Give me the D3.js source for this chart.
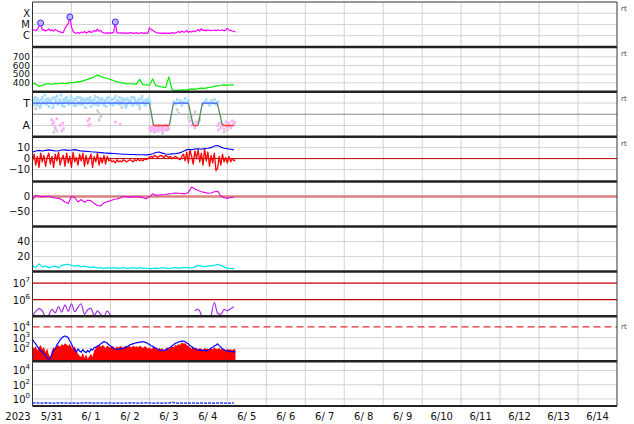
<!DOCTYPE html>
<html><head><meta charset="utf-8">
<script src="https://cdn.jsdelivr.net/npm/d3@7"></script>
<style>body{margin:0;background:#fff}svg{display:block}text{font-family:"DejaVu Sans",sans-serif}</style>
</head><body><svg id="c" width="634" height="424"></svg>
<script>
// ---------------- DATA ----------------
const startUTC = Date.UTC(2023,4,31);
const endUTC = Date.UTC(2023,5,15);
const dayLabels = ["5/31","6/ 1","6/ 2","6/ 3","6/ 4","6/ 5","6/ 6","6/ 7","6/ 8","6/ 9","6/10","6/11","6/12","6/13","6/14"];
const yearLabel = "2023";

// panel 1: X-ray flux, hourly, units of 1e-6 W/m2
const xrayStepH = 1;
const xrayC = [3.0,3.4,2.8,3.6,7.0,13.5,3.2,3.5,2.6,3.1,
 4.0,2.8,3.3,2.5,3.6,2.9,2.4,2.2,1.9,2.0,
 4.5,7.5,12.0,47.0,6.0,2.5,1.8,1.7,1.9,1.6,
 2.1,1.8,2.4,1.7,2.0,2.6,1.9,2.2,3.0,2.4,
 3.8,2.5,2.9,2.0,1.8,1.7,1.8,1.6,1.9,1.7,
 2.0,16.6,1.8,1.7,1.9,1.6,1.8,1.7,1.6,1.8,
 1.7,1.9,1.6,1.7,1.8,1.6,1.7,1.9,1.6,1.8,
 1.7,1.6,5.0,3.6,3.0,2.4,2.0,1.8,1.7,1.6,
 1.7,1.6,1.8,1.6,1.7,1.6,1.9,1.7,1.8,2.0,
 2.3,1.9,2.6,2.1,2.2,3.0,2.0,2.4,2.1,2.6,
 2.3,2.8,3.5,2.6,4.2,2.8,3.1,2.7,3.3,2.9,
 3.0,2.9,3.2,2.8,3.4,3.0,2.9,3.3,2.7,3.1,
 4.5,3.2,3.0,2.6,2.4,2.2];
const flareHours = [5, 23, 51];
const flareC = [13.5, 47.0, 16.6];
const xrayLevels = ["X","M","C"];
const xrayLevelFlux = [1e-4,1e-5,1e-6];

// panel 2: solar wind speed, 2-hourly
const speedStepH = 2;
const speed = [400,385,360,372,385,390,384,392,390,396,
 392,398,402,406,412,418,428,440,455,468,
 490,475,462,450,440,425,412,402,396,392,
 390,388,385,440,380,378,372,445,368,360,
 352,346,470,320,310,315,320,316,322,330,
 325,335,340,336,345,350,360,366,370,376,
 372,378,374];
const speedTicks = [400,500,600,700];

// panel 3: sector (T=+1, A=-1)
const sectorHours = [0,72,74.5,84.3,86.8,96,99,102,104.6,113.8,117,124];
const sectorLevel = [1,1,-1,-1,1,1,-1,-1,1,1,-1,-1];
const phiStepH = 1;
const phiTowardA = [1.1,1.3,0.9,1.4,1.2,0.8,1.5,1.0,1.3,1.1,
 0.7,1.2,1.4,0.9,1.3,1.6,1.0,1.2,0.8,1.3,
 1.1,1.5,0.9,1.2,1.4,1.0,1.3,0.8,1.1,1.5,
 1.2,0.9,1.3,1.0,1.4,1.2,0.7,1.1,1.3,0.9,
 1.5,1.2,1.0,1.3,0.8,1.2,1.4,1.1,0.9,1.3,
 1.0,1.6,1.2,0.9,1.1,1.4,1.0,1.3,0.8,1.2,
 1.1,1.5,0.9,1.3,1.0,1.2,0.7,1.4,1.1,0.9,
 1.3,1.0,1.2];
const phiTowardB = [0.8,1.5,1.2,1.0,0.6,1.3,1.1,1.7,0.9,1.4,
 1.2,1.0,0.6,1.5,1.1,0.9,1.3,1.7,1.0,0.7,
 1.4,1.2,0.9,1.6,1.1,0.8,1.3,1.5,1.0,0.9,
 1.4,1.1,0.6,1.3,1.0,1.5,1.2,0.9,1.6,1.1,
 0.8,1.3,1.4,1.0,1.2,0.7,1.5,1.1,1.3,0.8,
 1.4,1.0,1.2,1.5,0.9,1.1,1.3,0.6,1.4,1.0,
 1.2,0.8,1.5,1.1,0.9,1.3,1.0,1.6,1.2,0.8,
 1.1,1.4,1.0];
const phiLateHours = [87,88,89,90,91,92,93,94,95,96,105,106,107,108,109,110,111,112,113,114];
const phiLateVals = [1.1,0.9,1.3,1.0,1.2,0.8,1.1,1.4,1.0,1.2,0.9,1.1,1.3,1.0,0.8,1.2,1.0,1.3,0.9,1.1];
const phiAwayHours = [11.7,12.3,13,14,15,17,18,18.5,19,34,34.5,35,35.5,41,51,54,
 72,72.5,73,73.5,74,74.5,75,75.5,76,76.5,77,77.5,78,78.5,79,79.5,80,80.5,81,82,82.5,83,84,
 97,98,99,100,101,114,114.5,115,116,117,118,119,120,121,122,123,124,124.5];
const phiAwayVals = [-0.5,-0.9,-0.7,-1.2,-0.4,-1.0,-1.5,-0.8,-1.3,-0.6,-1.0,-0.4,-0.9,-0.5,-0.7,-0.9,
 -1.3,-1.1,-1.5,-1.2,-1.4,-1.0,-1.3,-1.5,-1.1,-1.4,-1.2,-1.5,-1.0,-1.3,-1.4,-1.2,-1.5,-1.1,-1.3,-1.4,-1.0,-1.2,-1.3,
 -0.6,-1.0,-0.8,-1.2,-0.7,-1.0,-1.4,-0.8,-1.2,-0.9,-1.3,-0.7,-1.1,-0.8,-1.2,-0.6,-0.9,-0.7];
const phiOtherHours = [1,2,3,13,14,15,40,41,42,55,57,65,66,75,78,80,83,89,90,96,98,100,103,118,120];
const phiOtherVals = [0.9,0.5,0.8,-1.6,-1.3,-1.5,0.3,0.1,-0.2,0.6,0.8,0.9,0.5,-1.6,-1.2,-1.7,-1.4,0.4,0.1,-0.3,-0.1,0.2,-0.5,-1.6,-1.4];

// panel 4: IMF Bt (blue, 2-hourly) and Bz (red, hourly)
const btStepH = 2;
const bt = [6,7,7.5,7,7.5,8,7.5,7,7.2,7.8,
 8,7.5,7.8,8.2,7.5,7,6.8,6.5,6.2,6.0,
 5.8,5.5,5.2,5.0,4.8,4.6,4.4,4.2,4.0,4.0,
 3.8,3.8,3.6,3.5,3.5,3.4,3.6,4.5,5.5,6.0,
 5.0,4.2,4.0,4.3,4.5,5.0,6.0,7.5,8.5,8.0,
 8.8,9.0,8.5,9.2,9.5,10.0,11.5,12.0,10.5,9.5,
 9.0,8.5,8.0];
const bzStepH = 1;
const bz = [-2,4,-6,2,-8,5,-3,3,-7,1,
 5,-5,2,-8,4,-2,6,-6,0,3,
 -7,5,-4,2,-8,6,-3,1,-6,4,
 -2,5,-7,3,-5,0,4,-8,2,-3,
 5,-6,1,-4,3,-5,2,-2,-1,-3,
 -2,-4,-1,-3,-2,-3,-1,-2,-3,-2,
 -1,-2,-3,-1,-2,0,-2,-1,-2,0,
 -1,0,1,2,1,3,2,1,2,3,
 2,1,3,2,1,2,0,1,2,1,
 0,-1,2,4,-2,6,-4,8,2,-5,
 7,0,8,-3,5,-6,9,-2,6,-7,
 3,-4,5,-11,-9,2,-6,4,-3,1,
 -4,2,-3,0,-2,-1];
const bTicks = [10,0,-10];

// panel 5: index (magenta), 2-hourly
const dstStepH = 2;
const dst = [-10,4,2,-1,0,1,-2,-5,-6,-10,
 -18,-23,0,-3,-18,-10,-19,-12,-14,-23,
 -30,-31,-21,-17,-14,-10,-8,-5,1,-1,
 -2,-1,0,-2,-4,-7,-1,9,4,5,
 6,7,9,10,12,11,10,9,14,32,
 25,20,16,14,11,12,16,18,2,-4,
 -6,-3,-2];
const dstTicks = [0,-50];

// panel 6: density (cyan), 2-hourly
const denStepH = 2;
const den = [8,5,10,6,7,5,6,7,5,8,
 9,9.5,8,7,8,6,7,6,5,6,
 4.5,5,4,5,4.5,5,4,4.5,5,4,
 4.5,5,4,5,4,4.5,3.5,4,4.5,4,
 5,4.5,4,4.5,5,4,5,5.5,5,4.5,
 6,8,7,6.5,7,7.5,8,9.5,8,6,
 4,4,3.5];
const denTicks = [40,20];

// panel 7: electron fluence (purple), 2-hourly
const eStepH = 2;
const elec = [1.1e5,2.0e5,2.9e5,2.2e5,1.0e5,1.2e5,2.6e5,1.6e5,3.8e5,1.8e5,
 4.8e5,2.0e5,5.7e5,1.9e5,3.5e5,5.7e5,1.3e5,2.5e5,3.0e5,1.1e5,
 2.1e5,1.3e5,1.0e5,2.1e5,1.2e5,0.8e5,1.05e5,null,null,null,
 null,null,null,null,null,null,null,null,null,null,
 null,null,null,null,null,null,null,null,null,null,
 2.2e5,2.6e5,1.2e5,null,null,0.9e5,6.6e5,1.5e5,1.3e5,2.6e5,
 2.2e5,2.8e5,3.8e5];
const elecExp = [7,6];

// panel 8: protons (blue hourly) + red band (hourly upper envelope)
const pStepH = 1;
const pBlue = [700,380,260,140,90,55,45,28,22,12,
 9,11,28,65,85,210,330,620,880,1250,
 1400,1250,950,480,260,110,75,45,85,55,
 42,75,48,38,62,42,85,65,115,125,
 160,180,260,330,420,360,310,210,170,115,
 105,85,75,80,85,88,105,100,145,160,
 210,230,270,290,340,330,390,380,430,370,
 340,270,230,170,155,115,105,75,72,58,
 68,57,72,78,105,125,175,210,290,320,
 390,410,460,470,410,310,260,170,145,105,
 95,75,72,62,63,66,62,52,72,76,
 105,125,165,190,260,175,125,85,72,58,
 52,58,47,52,42,48];
const rStepH = 1;
const pRedHi = [180,90,150,60,120,200,80,130,40,100,
 25,15,60,120,90,150,200,130,250,180,
 300,220,160,250,120,80,150,60,30,20,
 15,40,12,25,10,18,30,15,60,100,
 150,220,130,200,160,100,180,140,110,170,
 120,90,150,110,160,130,100,170,120,140,
 160,110,180,130,150,120,170,140,100,150,
 130,90,120,80,110,140,90,70,110,80,
 100,60,90,120,80,110,150,120,200,170,
 250,200,350,280,300,200,160,120,90,130,
 80,110,70,100,90,60,110,80,95,70,
 100,75,120,90,80,110,70,100,85,60,
 90,70,80,60,85,70];
const pExp = [4,3,2];
const pThreshold = 1e4;

// panel 9: low flux (blue), 2-hourly
const lStepH = 2;
const low = [0.30,0.27,0.28,0.26,0.29,0.27,0.28,0.26,0.27,0.29,
 0.27,0.26,0.28,0.27,0.26,0.28,0.27,0.29,0.27,0.26,
 0.28,0.27,0.26,0.27,0.28,0.26,0.27,0.28,0.26,0.27,
 0.29,0.27,0.26,0.28,0.27,0.30,0.27,0.26,0.28,0.27,
 0.26,0.27,0.28,0.35,0.27,0.26,0.28,0.27,0.26,0.27,
 0.28,0.26,0.27,0.26,0.28,0.27,0.26,0.27,0.28,0.26,
 0.27,0.26,0.27];
const lowExp = [4,2,0];

// ---------------- DRAW ----------------
const W=634,H=424,L=32.5,R=617,T0=2,PH=44.9;
const svg=d3.select('#c');
svg.append('rect').attr('width',W).attr('height',H).attr('fill','#fff');
const x=d3.scaleUtc().domain([new Date(startUTC),new Date(endUTC)]).range([L,R]);
const tAt=(h)=>new Date(startUTC+h*3600e3);
const ptop=k=>T0+k*PH, pbot=k=>T0+(k+1)*PH;
const defs=svg.append('defs');
for(let k=0;k<9;k++){defs.append('clipPath').attr('id','cp'+k).append('rect').attr('x',L).attr('y',ptop(k)).attr('width',R-L).attr('height',PH);}

// scales
const ys=[
 d3.scaleLog().domain([1e-7,1e-3]).range([pbot(0),ptop(0)]),
 d3.scaleLinear().domain([297,815]).range([pbot(1),ptop(1)]),
 d3.scaleLinear().domain([-2,2]).range([pbot(2),ptop(2)]),
 d3.scaleLinear().domain([-21,20]).range([pbot(3),ptop(3)]),
 d3.scaleLinear().domain([-100,50]).range([pbot(4),ptop(4)]),
 d3.scaleLinear().domain([0,60]).range([pbot(5),ptop(5)]),
 d3.scaleLog().domain([1e5,5e7]).range([pbot(6),ptop(6)]),
 d3.scaleLog().domain([6,1e5]).range([pbot(7),ptop(7)]),
 d3.scaleLog().domain([0.1,2e5]).range([pbot(8),ptop(8)])
];

const grid=svg.append('g');
const days=d3.utcDay.range(new Date(Date.UTC(2023,5,1)),new Date(endUTC));
grid.selectAll('line.v').data(days).join('line').attr('x1',d=>x(d)).attr('x2',d=>x(d)).attr('y1',T0).attr('y2',pbot(8)).attr('stroke','#d2d2d2').attr('stroke-width',1);
function hgrid(k,vals,col,w){grid.selectAll(null).data(vals).join('line').attr('x1',L).attr('x2',R).attr('y1',d=>ys[k](d)).attr('y2',d=>ys[k](d)).attr('stroke',col||'#d2d2d2').attr('stroke-width',w||1);}
hgrid(0,xrayLevelFlux);
hgrid(1,speedTicks);
hgrid(2,[1,-1]); hgrid(2,[0],'#888',1);
hgrid(3,[10,-10]);
hgrid(4,[-50]);
hgrid(5,denTicks);
hgrid(7,[1e3,1e2]);
hgrid(8,lowExp.map(e=>Math.pow(10,e)));

const labels=svg.append('g').attr('fill','#111');
function lab(k,v,txt,fs){labels.append('text').attr('x',30).attr('y',ys[k](v)+ (fs||10)*0.36).attr('text-anchor','end').attr('font-size',fs||10).text(txt);}
function supLab(k,e){const t=labels.append('text').attr('x',30).attr('y',ys[k](Math.pow(10,e))+4).attr('text-anchor','end').attr('font-size',10);
 t.append('tspan').text('10'); t.append('tspan').attr('font-size',7).attr('dy',-5).text(e);}
xrayLevels.forEach((s,i)=>lab(0,xrayLevelFlux[i],s,10));
speedTicks.forEach(v=>lab(1,v,v,9));
lab(2,1,'T',11); lab(2,-1,'A',11);
bTicks.forEach(v=>lab(3,v,v<0?'\u2212'+(-v):v));
dstTicks.forEach(v=>lab(4,v,v<0?'\u2212'+(-v):v));
denTicks.forEach(v=>lab(5,v,v));
elecExp.forEach(e=>supLab(6,e));
pExp.forEach(e=>supLab(7,e));
lowExp.forEach(e=>supLab(8,e));

function series(k,vals,step,color,w,curve){
 const yk=ys[k];
 const line=d3.line().defined(d=>d!=null).x((d,i)=>x(tAt(i*step))).y(d=>yk(d));
 if(curve) line.curve(curve);
 return svg.append('path').attr('clip-path','url(#cp'+k+')').attr('d',line(vals)).attr('fill','none').attr('stroke',color).attr('stroke-width',w||1).attr('stroke-linejoin','round');
}

// panel 1
series(0,xrayC.map(v=>v*1e-6),xrayStepH,'#ff00ff',1.2);
svg.append('g').selectAll('circle').data(flareHours).join('circle').attr('cx',d=>x(tAt(d))).attr('cy',(d,i)=>ys[0](flareC[i]*1e-6)).attr('r',3).attr('fill','#c8b0ff').attr('stroke','#3030ff').attr('stroke-width',1);

// panel 2
series(1,speed,speedStepH,'#00ee00',1.2);

// panel 3 scatter
const g3=svg.append('g').attr('clip-path','url(#cp2)');
function dots(hours,vals,col){g3.selectAll(null).data(vals).join('rect').attr('x',(d,i)=>x(tAt(hours[i]))-1.2).attr('y',d=>ys[2](d)-1.5).attr('width',2.6).attr('height',3).attr('fill',col);}
dots(phiOtherHours,phiOtherVals,'#cfcfcf');
dots(phiTowardA.map((d,i)=>i*phiStepH),phiTowardA,'#a8dcff');
dots(phiTowardB.map((d,i)=>i*phiStepH+0.5),phiTowardB,'#a8dcff');
dots(phiLateHours,phiLateVals,'#a8dcff');
dots(phiAwayHours,phiAwayVals,'#f7b4f4');
for(let i=0;i<sectorHours.length-1;i++){
 const a=sectorLevel[i],b=sectorLevel[i+1];
 const col=a!==b?'#5b8a5b':(a>0?'#3c5cff':'#ff3030');
 g3.append('line').attr('x1',x(tAt(sectorHours[i]))).attr('x2',x(tAt(sectorHours[i+1]))).attr('y1',ys[2](a)).attr('y2',ys[2](b)).attr('stroke',col).attr('stroke-width',1.3);
}

// panel 4
svg.append('line').attr('x1',L).attr('x2',R).attr('y1',ys[3](0)).attr('y2',ys[3](0)).attr('stroke','#b00000').attr('stroke-width',1);
series(3,bz,bzStepH,'#ff0000',1.3);
series(3,bt,btStepH,'#0000ff',1.1);

// panel 5
svg.append('line').attr('x1',L).attr('x2',R).attr('y1',ys[4](0)).attr('y2',ys[4](0)).attr('stroke','#d88080').attr('stroke-width',2.5);
series(4,dst,dstStepH,'#e000e0',1.1);

// panel 6
series(5,den,denStepH,'#00e8e8',1.2);

// panel 7
[1e7,1e6].forEach(v=>svg.append('line').attr('x1',L).attr('x2',R).attr('y1',ys[6](v)).attr('y2',ys[6](v)).attr('stroke','#c00000').attr('stroke-width',1.2));
series(6,elec,eStepH,'#a030e0',1.2,d3.curveMonotoneX);

// panel 8
svg.append('line').attr('x1',L).attr('x2',R).attr('y1',ys[7](pThreshold)).attr('y2',ys[7](pThreshold)).attr('stroke','#e03030').attr('stroke-width',1.3).attr('stroke-dasharray','7,4');
const area=d3.area().x((d,i)=>x(tAt(i*rStepH))).y0(pbot(7)).y1(d=>ys[7](d));
svg.append('path').attr('clip-path','url(#cp7)').attr('d',area(pRedHi)).attr('fill','#ff0000');
series(7,pBlue,pStepH,'#0000ff',1.2);

// panel 9
series(8,low,lStepH,'#3040ff',1.5).attr('stroke-dasharray','3,1');

// frame
const fr=svg.append('g');
for(let k=1;k<9;k++) fr.append('line').attr('x1',L).attr('x2',R).attr('y1',ptop(k)).attr('y2',ptop(k)).attr('stroke','#222').attr('stroke-width',2.5);
fr.append('line').attr('x1',L).attr('x2',R).attr('y1',pbot(8)).attr('y2',pbot(8)).attr('stroke','#222').attr('stroke-width',2);
fr.append('line').attr('x1',L).attr('x2',R).attr('y1',T0).attr('y2',T0).attr('stroke','#333').attr('stroke-width',1);
[L,R].forEach(xx=>fr.append('line').attr('x1',xx).attr('x2',xx).attr('y1',T0).attr('y2',pbot(8)).attr('stroke','#333').attr('stroke-width',1));

// rt marks
[ptop(0)+9,ptop(1)+9,ptop(2)+9,ptop(3)+9,ys[7](pThreshold)+2].forEach(yy=>svg.append('text').attr('x',621).attr('y',yy).attr('font-size',7).attr('fill','#444').text('rt'));

// bottom labels
const bl=svg.append('g').attr('fill','#111').attr('font-size',10).attr('text-anchor','middle').style('white-space','pre');
bl.append('text').attr('x',18).attr('y',420).text(yearLabel);
bl.selectAll(null).data(dayLabels).join('text').attr('x',(d,i)=>x(new Date(startUTC+(i+0.5)*86400e3))).attr('y',420).text(d=>d);
</script></body></html>
